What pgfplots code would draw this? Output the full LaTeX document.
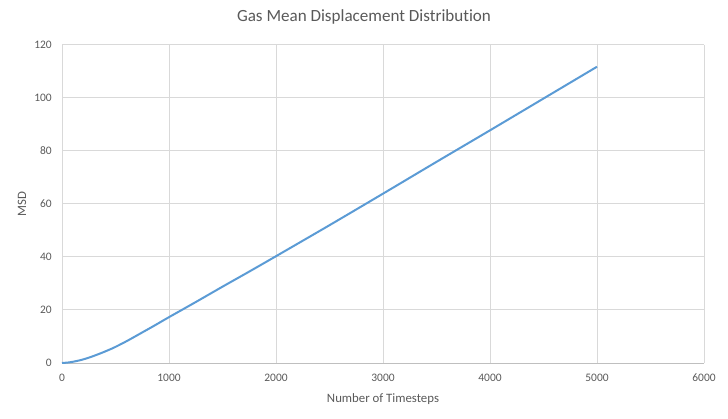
\documentclass[border=0pt]{standalone}
\usepackage{pgfplots}
\pgfplotsset{compat=1.18}
\usepackage{fontspec}
\setmainfont[Ligatures=NoCommon]{Carlito}
\definecolor{txt}{HTML}{595959}
\definecolor{gridc}{HTML}{D9D9D9}
\definecolor{axc}{HTML}{BFBFBF}
\definecolor{line}{HTML}{5B9BD5}
\pgfplotstableread{
t msd
0 0
50 0.15
100 0.45
175 1.1
250 2.0
325 3.1
400 4.3
475 5.6
550 7.1
625 8.7
700 10.4
775 12.1
850 13.8
925 15.55
1000 17.3
1250 23.0
1500 28.8
1750 34.5
2000 40.3
2500 52.0
3000 63.9
3500 75.9
4000 87.8
4500 99.8
5000 111.8
}\msdtable
\begin{document}
\begin{tikzpicture}
\useasboundingbox (0,0) rectangle (546pt,313.5pt);
\begin{axis}[
  at={(46.5pt,41.25pt)}, anchor=south west,
  scale only axis, width=481.5pt, height=238.5pt,
  xmin=0, xmax=6000, ymin=0, ymax=120,
  xtick={0,1000,...,6000}, ytick={0,20,...,120},
  major tick length=0pt,
  grid=major, grid style={gridc, line width=0.75pt},
  axis x line*=bottom, axis y line*=left,
  x axis line style={axc, line width=0.75pt, -},
  y axis line style={gridc, line width=0.75pt, -},
  /pgf/number format/assume math mode=true,
  /pgf/number format/1000 sep={},
  tick label style={font=\fontsize{8.6}{10}\selectfont, text=txt},
  xticklabel style={anchor=base, yshift=-14pt, inner sep=0pt},
  yticklabel style={anchor=east, xshift=-7.5pt, inner sep=0pt},
  clip=false,
]
\addplot[line, line width=1.5pt, smooth, tension=0.5] table[x=t, y=msd] {\msdtable};
\end{axis}
\node[text=txt, font=\fontsize{12.8}{15}\selectfont] at (273pt,300.75pt) {Gas Mean Displacement Distribution};
\node[text=txt, font=\fontsize{9.6}{11}\selectfont] at (287.25pt,14.25pt) {Number of Timesteps};
\node[text=txt, font=\fontsize{9.6}{11}\selectfont, rotate=90] at (16.5pt,160.5pt) {MSD};
\end{tikzpicture}
\end{document}
